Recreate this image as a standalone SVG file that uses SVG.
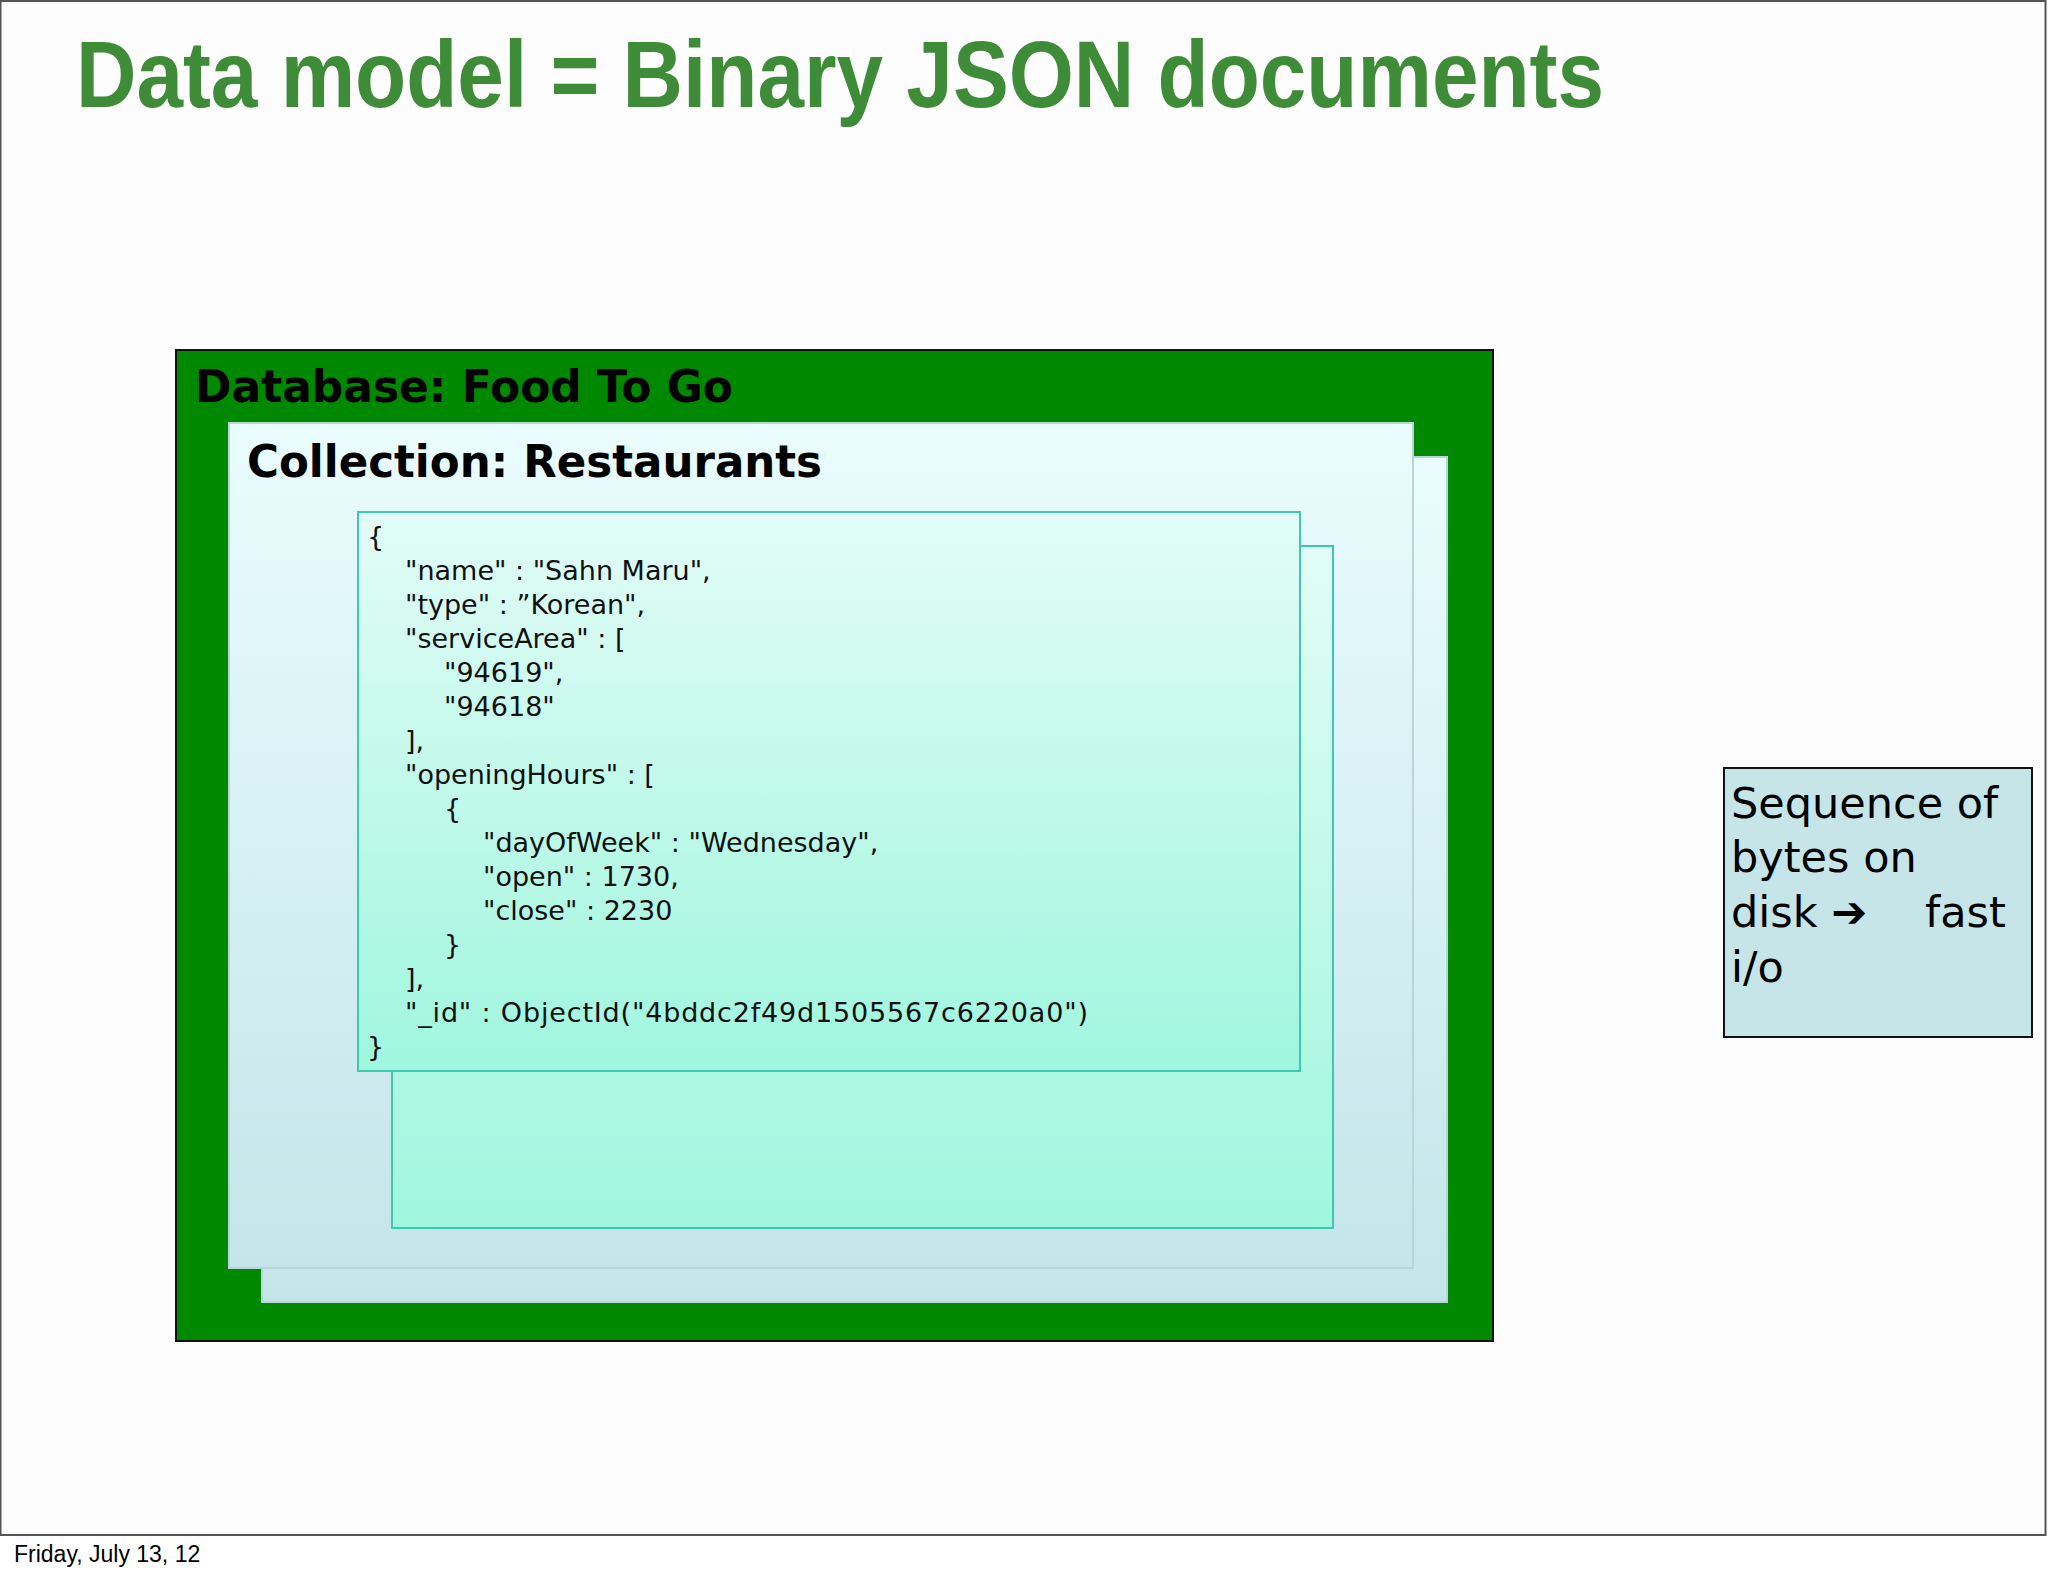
<svg xmlns="http://www.w3.org/2000/svg" width="2048" height="1576" viewBox="0 0 2048 1576">
<defs>
<linearGradient id="coll" x1="0" y1="0" x2="0" y2="1"><stop offset="0" stop-color="#eafcfe"/><stop offset="1" stop-color="#c4e5ea"/></linearGradient>
<linearGradient id="doc" x1="0" y1="0" x2="0" y2="1"><stop offset="0" stop-color="#e2fcf7"/><stop offset="1" stop-color="#a0f6de"/></linearGradient>
<style>
.json{font-family:"DejaVu Sans",Verdana,sans-serif;font-size:27px;fill:#111}
.hdr{font-family:"DejaVu Sans",Verdana,sans-serif;font-weight:bold;font-size:45px;fill:#000}
.side{font-family:"DejaVu Sans",Verdana,sans-serif;font-size:43px;fill:#000}
</style>
</defs>
<rect x="0" y="0" width="2048" height="1576" fill="#fff"/>
<rect x="0.5" y="1" width="2045" height="1534" fill="#fdfdfd" stroke="#555" stroke-width="2"/>
<text x="76" y="107" font-family="Liberation Sans,Arial,sans-serif" font-weight="bold" font-size="94" fill="#3f8c38" textLength="1528" lengthAdjust="spacingAndGlyphs">Data model = Binary JSON documents</text>
<g id="database">
<rect x="176" y="350" width="1317" height="991" fill="#008800" stroke="#111" stroke-width="2"/>
<text class="hdr" x="195" y="402" textLength="538" lengthAdjust="spacingAndGlyphs">Database: Food To Go</text>
</g>
<g id="collection">
<rect x="262" y="457" width="1185" height="845" fill="url(#coll)" stroke="#b8d5da" stroke-width="2"/>
<rect x="229" y="423" width="1184" height="845" fill="url(#coll)" stroke="#b8d5da" stroke-width="2"/>
<text class="hdr" x="247" y="477" textLength="575" lengthAdjust="spacingAndGlyphs">Collection: Restaurants</text>
</g>
<g id="document">
<rect x="392" y="546" width="941" height="682" fill="url(#doc)" stroke="#3cc9b0" stroke-width="2"/>
<rect x="358" y="512" width="942" height="559" fill="url(#doc)" stroke="#3cc9b0" stroke-width="2"/>
<text class="json" x="367" y="546">{</text>
<text class="json" x="405" y="580">"name" : "Sahn Maru",</text>
<text class="json" x="405" y="614">"type" : ”Korean",</text>
<text class="json" x="405" y="648">"serviceArea" : [</text>
<text class="json" x="444" y="682">"94619",</text>
<text class="json" x="444" y="716">"94618"</text>
<text class="json" x="405" y="750">],</text>
<text class="json" x="405" y="784">"openingHours" : [</text>
<text class="json" x="444" y="818">{</text>
<text class="json" x="483" y="852">"dayOfWeek" : "Wednesday",</text>
<text class="json" x="483" y="886">"open" : 1730,</text>
<text class="json" x="483" y="920">"close" : 2230</text>
<text class="json" x="444" y="954">}</text>
<text class="json" x="405" y="988">],</text>
<text class="json" x="405" y="1022" textLength="683">"_id" : ObjectId("4bddc2f49d1505567c6220a0")</text>
<text class="json" x="367" y="1056">}</text>
</g>
<g id="note">
<rect x="1724" y="768" width="308" height="269" fill="#c6e5e8" stroke="#111" stroke-width="2"/>
<text class="side" x="1731" y="818">Sequence of</text>
<text class="side" x="1731" y="872">bytes on</text>
<text class="side" x="1731" y="927">disk <tspan font-weight="bold">➔</tspan><tspan x="1925">fast</tspan></text>
<text class="side" x="1731" y="982">i/o</text>
</g>
<g id="connectors"/>
<text x="14" y="1562" font-family="Liberation Sans,Arial,sans-serif" font-size="23" fill="#000">Friday, July 13, 12</text>
</svg>
